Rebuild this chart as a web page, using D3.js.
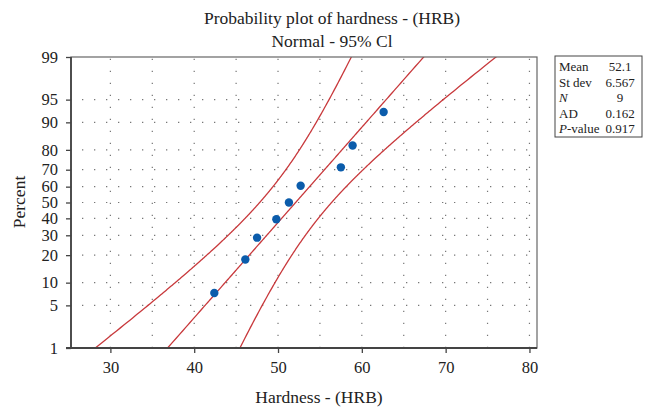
<!DOCTYPE html>
<html>
<head>
<meta charset="utf-8">
<script src="https://cdn.jsdelivr.net/npm/d3@7"></script>
<style>
  html, body { margin: 0; padding: 0; background: #fff; }
  svg { display: block; }
  text { font-family: "Liberation Serif", "DejaVu Serif", serif; fill: #222; }
</style>
</head>
<body>
<svg id="chart" width="650" height="411"></svg>
<script>
// Hardness readings (HRB), sorted, and their plotting positions (median ranks, %)
const hardness = [42.4, 46.1, 47.5, 49.8, 51.3, 52.7, 57.5, 58.9, 62.6];
const percentRank = [7.4, 18.1, 28.7, 39.4, 50.0, 60.6, 71.3, 81.9, 92.6];

// Fit summary shown in the table
const statLabels = ["Mean", "St dev", "N", "AD", "P-value"];
const statValues = ["52.1", "6.567", "9", "0.162", "0.917"];
const fitMean = 52.1;
const fitSd = 6.567;
const fitN = 9;

// Axis ticks
const xTicks = [30, 40, 50, 60, 70, 80];
const xGrid = [30, 35, 40, 45, 50, 55, 60, 65, 70, 75, 80];
const yTicks = [1, 5, 10, 20, 30, 40, 50, 60, 70, 80, 90, 95, 99];
const yGrid = [5, 10, 20, 30, 40, 50, 60, 70, 80, 90, 95];

const svg = d3.select("#chart");
const plot = { left: 71, right: 537, top: 57, bottom: 348 };

// Normal quantile function (Acklam's rational approximation)
function probit(p) {
  const a = [-3.969683028665376e+01, 2.209460984245205e+02, -2.759285104469687e+02,
             1.383577518672690e+02, -3.066479806614716e+01, 2.506628277459239e+00];
  const b = [-5.447609879822406e+01, 1.615858368580409e+02, -1.556989798598866e+02,
             6.680131188771972e+01, -1.328068155288572e+01];
  const c = [-7.784894002430293e-03, -3.223964580411365e-01, -2.400758277161838e+00,
             -2.549732539343734e+00, 4.374664141464968e+00, 2.938163982698783e+00];
  const d = [7.784695709041462e-03, 3.224671290700398e-01, 2.445134137142996e+00,
             3.754408661907416e+00];
  const pl = 0.02425, ph = 1 - pl;
  let q, r;
  if (p < pl) {
    q = Math.sqrt(-2 * Math.log(p));
    return (((((c[0]*q+c[1])*q+c[2])*q+c[3])*q+c[4])*q+c[5]) /
           ((((d[0]*q+d[1])*q+d[2])*q+d[3])*q+1);
  } else if (p <= ph) {
    q = p - 0.5; r = q * q;
    return (((((a[0]*r+a[1])*r+a[2])*r+a[3])*r+a[4])*r+a[5])*q /
           (((((b[0]*r+b[1])*r+b[2])*r+b[3])*r+b[4])*r+1);
  } else {
    q = Math.sqrt(-2 * Math.log(1 - p));
    return -(((((c[0]*q+c[1])*q+c[2])*q+c[3])*q+c[4])*q+c[5]) /
            ((((d[0]*q+d[1])*q+d[2])*q+d[3])*q+1);
  }
}

const x = d3.scaleLinear().domain([25.3, 80.9]).range([plot.left, plot.right]);
const zScale = d3.scaleLinear().domain([probit(0.01), probit(0.99)]).range([plot.bottom, plot.top]);
const y = pct => zScale(probit(pct / 100));

// Dotted reference grid
const gridColor = "#777";
svg.append("g").selectAll("line").data(xGrid).join("line")
  .attr("x1", d => x(d)).attr("x2", d => x(d))
  .attr("y1", plot.bottom).attr("y2", plot.top)
  .attr("stroke", gridColor).attr("stroke-width", 1.2)
  .attr("stroke-dasharray", "1.3,10.7");
svg.append("g").selectAll("line").data(yGrid).join("line")
  .attr("x1", plot.left).attr("x2", plot.right)
  .attr("y1", d => y(d)).attr("y2", d => y(d))
  .attr("stroke", gridColor).attr("stroke-width", 1.2)
  .attr("stroke-dasharray", "1.3,10.7")
  .attr("stroke-dashoffset", -11);

// Fitted line and 95% confidence band, clipped to the plot area
svg.append("clipPath").attr("id", "plotClip").append("rect")
  .attr("x", plot.left).attr("y", plot.top)
  .attr("width", plot.right - plot.left).attr("height", plot.bottom - plot.top);

const zCrit = 1.96;
const probs = d3.range(0.5, 99.51, 0.25).map(p => p / 100);
const bandPoint = (p, k) => {
  const z = probit(p);
  const se = fitSd * Math.sqrt(1 / fitN + z * z / (2 * (fitN - 1)));
  return { v: fitMean + fitSd * z + k * zCrit * se, pct: p * 100 };
};
const line = d3.line().x(d => x(d.v)).y(d => y(d.pct));
const curves = [-1, 0, 1].map(k => probs.map(p => bandPoint(p, k)));

svg.append("g").attr("clip-path", "url(#plotClip)")
  .selectAll("path").data(curves).join("path")
  .attr("d", line)
  .attr("fill", "none")
  .attr("stroke", "#c8393c")
  .attr("stroke-width", 1.3);

// Frame
svg.append("rect")
  .attr("x", plot.left).attr("y", plot.top)
  .attr("width", plot.right - plot.left).attr("height", plot.bottom - plot.top)
  .attr("fill", "none").attr("stroke", "#666").attr("stroke-width", 1.2);

// Axes
const yAxis = d3.axisLeft(zScale)
  .tickValues(yTicks.map(t => probit(t / 100)))
  .tickFormat((d, i) => yTicks[i])
  .tickSize(5).tickPadding(8);
const gy = svg.append("g").attr("transform", `translate(${plot.left},0)`).call(yAxis);

const xAxis = d3.axisBottom(x).tickValues(xTicks).tickFormat(d3.format("d"))
  .tickSize(5).tickPadding(8);
const gx = svg.append("g").attr("transform", `translate(0,${plot.bottom})`).call(xAxis);

[gx, gy].forEach(g => {
  g.select(".domain").attr("stroke", "#444").attr("stroke-width", 1.8);
  g.selectAll(".tick line").attr("stroke", "#444").attr("stroke-width", 1.3);
  g.selectAll(".tick text")
    .attr("font-family", '"Liberation Serif", "DejaVu Serif", serif')
    .attr("font-size", 16.5).attr("fill", "#222");
});
gy.select(".domain").attr("d", `M0,${plot.bottom}V${plot.top}`);
gx.select(".domain").attr("d", `M${plot.left - 5},0H${plot.right}`);

// Data points
svg.append("g").selectAll("circle").data(hardness).join("circle")
  .attr("cx", d => x(d))
  .attr("cy", (d, i) => y(percentRank[i]))
  .attr("r", 4.2)
  .attr("fill", "#0b5cab");

// Titles
svg.append("text").attr("x", 332).attr("y", 24).attr("text-anchor", "middle")
  .attr("font-size", 17.5).text("Probability plot of hardness - (HRB)");
svg.append("text").attr("x", 332).attr("y", 47).attr("text-anchor", "middle")
  .attr("font-size", 17.5).text("Normal - 95% Cl");
svg.append("text").attr("x", 319).attr("y", 403).attr("text-anchor", "middle")
  .attr("font-size", 17.5).text("Hardness - (HRB)");
svg.append("text")
  .attr("transform", "translate(25,202) rotate(-90)")
  .attr("text-anchor", "middle").attr("font-size", 17.5).text("Percent");

// Summary table
const box = svg.append("g");
box.append("rect").attr("x", 555).attr("y", 56).attr("width", 87).attr("height", 81)
  .attr("fill", "#fff").attr("stroke", "#444").attr("stroke-width", 1);
const rowY = i => 71 + i * 15.5;
statLabels.forEach((lab, i) => {
  const t = box.append("text").attr("x", 559).attr("y", rowY(i)).attr("font-size", 13);
  if (lab === "N") {
    t.append("tspan").attr("font-style", "italic").text("N");
  } else if (lab === "P-value") {
    t.append("tspan").attr("font-style", "italic").text("P");
    t.append("tspan").text("-value");
  } else {
    t.text(lab);
  }
  box.append("text").attr("x", 620).attr("y", rowY(i)).attr("text-anchor", "middle")
    .attr("font-size", 13).text(statValues[i]);
});
</script>
</body>
</html>
